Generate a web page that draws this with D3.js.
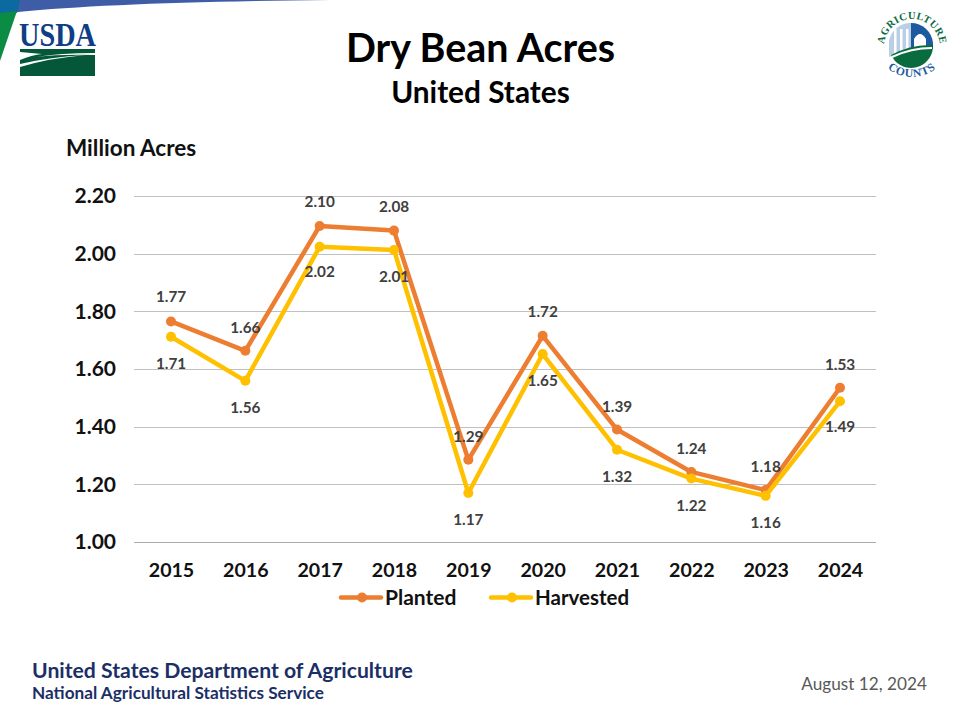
<!DOCTYPE html>
<html><head><meta charset="utf-8">
<script src="https://cdn.jsdelivr.net/npm/d3@7"></script>
<style>html,body{margin:0;background:#fff}svg{display:block}text{font-family:Lato,"Open Sans",sans-serif}</style>
</head><body><svg id="c" width="960" height="720"></svg>
<script>
const years=["2015","2016","2017","2018","2019","2020","2021","2022","2023","2024"];
const planted=[1.765,1.663,2.096,2.08,1.285,1.715,1.39,1.243,1.18,1.535];
const harvested=[1.712,1.559,2.024,2.013,1.17,1.652,1.32,1.22,1.16,1.488];
const plantedLabels=["1.77","1.66","2.10","2.08","1.29","1.72","1.39","1.24","1.18","1.53"];
const harvestedLabels=["1.71","1.56","2.02","2.01","1.17","1.65","1.32","1.22","1.16","1.49"];
const yTicks=[1.0,1.2,1.4,1.6,1.8,2.0,2.2];
const plantedLabelGap=[-24,-23,-24,-24,-23,-24,-23,-23,-23,-23];
const harvestedLabelGap=[27,27,25,27,27,27,27,27,27,26];

const svg=d3.select("#c");
const x=d3.scalePoint().domain(years).range([171,840]);
const y=d3.scaleLinear().domain([1,2.2]).range([542,196]);
const serif="'Liberation Serif',serif";

// header swoosh
svg.append("path").attr("d","M0 0H330Q120 2 18 12L0 13Z").attr("fill","#3f5da6");
svg.append("path").attr("d","M0 0H20L17 13L0 13Z").attr("fill","#0b6aa0");
svg.append("path").attr("d","M0 13L17 11L0 61Z").attr("fill","#0a8c45");

// USDA logo
svg.append("text").attr("x",19).attr("y",46).attr("textLength",77).attr("lengthAdjust","spacingAndGlyphs")
  .style("font-family",serif).attr("font-size",34).attr("font-weight",700).attr("fill","#0e3f86").text("USDA");
svg.append("path").attr("d","M20 49H95V53Q60 53 36 57Q60 54 95 55V76H20V67Q50 58 86 55Q50 57 20 64V60Q32 55 42 54L20 52Z").attr("fill","#05573a");

// Agriculture Counts logo
const g=svg.append("g").attr("transform","translate(911,45)");
g.append("path").attr("d","M-22 -4A22 22 0 0 1 0 -22V6L-22 12Z").attr("fill","#b9cfe6");
g.append("path").attr("d","M0 -22A22 22 0 0 1 22 -2L22 4L0 8Z").attr("fill","#1d5aa0");
[-17,-11,-5].forEach(v=>g.append("rect").attr("x",v).attr("y",-16).attr("width",2.5).attr("height",24).attr("fill","#fff"));
g.append("path").attr("d","M3 6V-6Q9 -16 15 -6V4Z").attr("fill","#fff");
g.append("path").attr("d","M-20 10Q0 -1 22 0A22 22 0 0 1 -16 16Z").attr("fill","#0a6b3f");
g.append("path").attr("d","M-19 12Q0 3 21 3").attr("fill","none").attr("stroke","#fff").attr("stroke-width",2);
const defs=svg.append("defs");
defs.append("path").attr("id","arcTop").attr("d","M884 47A28 28 0 0 1 940 47");
defs.append("path").attr("id","arcBot").attr("d","M879 50A33 27 0 0 0 945 50");
svg.append("text").style("font-family",serif).attr("font-size",10.5).attr("font-weight","bold").attr("fill","#0a6b3f").attr("letter-spacing",0.4)
  .append("textPath").attr("href","#arcTop").attr("startOffset","50%").attr("text-anchor","middle").text("AGRICULTURE");
svg.append("text").style("font-family",serif).attr("font-size",11.5).attr("font-weight","bold").attr("fill","#1d5aa0").attr("letter-spacing",0.8)
  .append("textPath").attr("href","#arcBot").attr("startOffset","50%").attr("text-anchor","middle").text("COUNTS");

// titles
svg.append("text").attr("x",480.5).attr("y",62).attr("text-anchor","middle").attr("font-size",39.4).attr("font-weight",700).attr("fill","#000").text("Dry Bean Acres");
svg.append("text").attr("x",480.5).attr("y",102.5).attr("text-anchor","middle").attr("font-size",29.8).attr("font-weight",700).attr("fill","#000").text("United States");
svg.append("text").attr("x",66).attr("y",156).attr("font-size",22.5).attr("font-weight",700).attr("fill","#111").text("Million Acres");

// grid + axes
svg.append("g").selectAll("line").data(yTicks).join("line")
  .attr("x1",134).attr("x2",876).attr("y1",d=>Math.round(y(d))+.5).attr("y2",d=>Math.round(y(d))+.5)
  .attr("stroke",d=>d===1?"#ababab":"#c0c0c0").attr("stroke-width",1);
const yAxis=d3.axisLeft(y).tickValues(yTicks).tickFormat(d3.format(".2f")).tickSize(0).tickPadding(0);
const ya=svg.append("g").attr("transform","translate(116,0)").call(yAxis);
ya.select(".domain").remove();
ya.selectAll("text").attr("font-size",21).attr("font-weight",700).attr("fill","#111").attr("dy",".32em").style("font-family","Lato,sans-serif");
const xAxis=d3.axisBottom(x).tickSize(0).tickPadding(0);
const xa=svg.append("g").attr("transform","translate(0,563)").call(xAxis);
xa.select(".domain").remove();
xa.selectAll("text").attr("font-size",19.6).attr("font-weight",700).attr("fill","#111").attr("dy",".71em").style("font-family","Lato,sans-serif");

// series
const line=d3.line().x((d,i)=>x(years[i])).y(d=>y(d));
function series(vals,color){
  svg.append("path").datum(vals).attr("d",line).attr("fill","none").attr("stroke",color).attr("stroke-width",4.5).attr("stroke-linejoin","round");
  svg.append("g").selectAll("circle").data(vals).join("circle")
    .attr("cx",(d,i)=>x(years[i])).attr("cy",d=>y(d)).attr("r",5).attr("fill",color);
}
series(planted,"#ed7d31");
series(harvested,"#ffc000");

// data labels
function labels(vals,texts,gaps){
  svg.append("g").selectAll("text").data(vals).join("text")
    .attr("x",(d,i)=>x(years[i])).attr("y",(d,i)=>y(d)+gaps[i]+5)
    .attr("text-anchor","middle").attr("font-size",15.3).attr("font-weight",700).attr("fill","#404040")
    .text((d,i)=>texts[i]);
}
labels(planted,plantedLabels,plantedLabelGap);
labels(harvested,harvestedLabels,harvestedLabelGap);

// legend
const legend=[["Planted","#ed7d31",341,385],["Harvested","#ffc000",491,535]];
legend.forEach(([t,c,x0,tx])=>{
  svg.append("line").attr("x1",x0).attr("x2",x0+40).attr("y1",597.5).attr("y2",597.5).attr("stroke",c).attr("stroke-width",4.5).attr("stroke-linecap","round");
  svg.append("circle").attr("cx",x0+21).attr("cy",597.5).attr("r",5).attr("fill",c);
  svg.append("text").attr("x",tx).attr("y",605).attr("font-size",t==="Planted"?21:20.5).attr("font-weight",700).attr("fill","#111").text(t);
});

// footer
svg.append("text").attr("x",32).attr("y",678).attr("font-size",21.2).attr("font-weight",700).attr("fill","#1b2f66").text("United States Department of Agriculture");
svg.append("text").attr("x",32).attr("y",699).attr("font-size",17.2).attr("font-weight",700).attr("fill","#1b2f66").text("National Agricultural Statistics Service");
svg.append("text").attr("x",927).attr("y",690).attr("text-anchor","end").attr("font-size",17.2).attr("fill","#595959").text("August 12, 2024");
</script></body></html>
